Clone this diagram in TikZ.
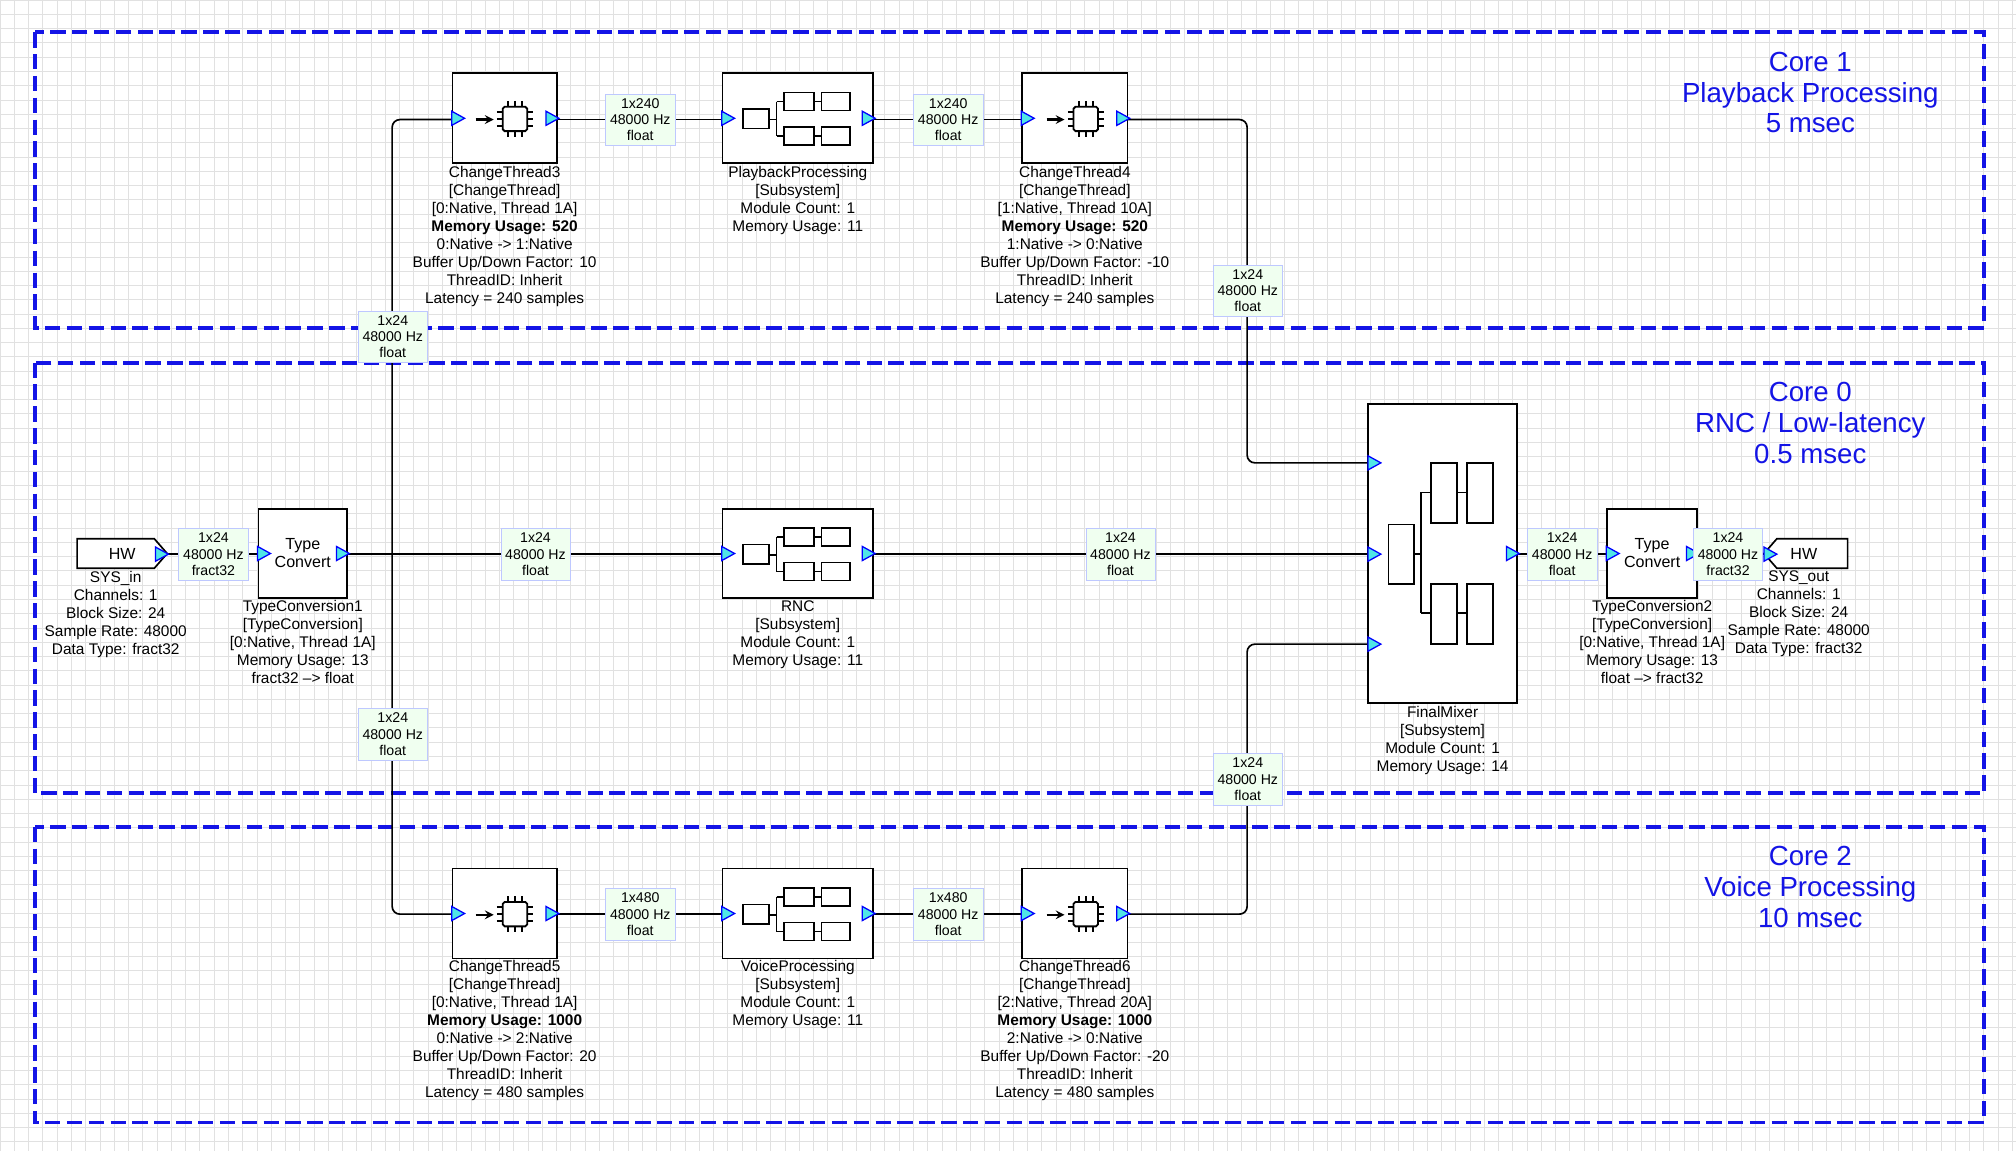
\documentclass[tikz,border=0pt]{standalone}
\usepackage{fontspec}
\setmainfont{Liberation Sans}
\begin{document}
\begin{tikzpicture}[x=1pt,y=-1pt,
  gridc/.style={draw={rgb,255:red,225;green,225;blue,225},line width=0.6pt},
  core/.style={draw={rgb,255:red,20;green,20;blue,230},line width=3pt,dash pattern=on 12pt off 5pt},
  title/.style={text={rgb,255:red,20;green,20;blue,230},font=\fontsize{21.5}{24}\selectfont,align=center},
  blk/.style={draw,line width=1.3pt,fill=white,inner sep=0pt},
  wire/.style={line width=1.3pt,rounded corners=6pt},
  lab/.style={draw={rgb,255:red,190;green,200;blue,255},fill={rgb,255:red,240;green,255;blue,240},font=\fontsize{11}{12.5}\selectfont,align=center,inner sep=1.5pt,minimum width=54pt,minimum height=40pt},
  txt/.style={font=\fontsize{12}{14}\selectfont,align=center,inner sep=0pt,anchor=north},
  port/.style={fill={rgb,255:red,80;green,230;blue,230},draw={rgb,255:red,0;green,0;blue,255},line width=1pt},
  ic/.style={line width=1.4pt}]
\useasboundingbox (0,0) rectangle (1568,895.2);
\fill[white] (0,0) rectangle (1568,895.2);
\foreach \i in {0,...,141} \draw[gridc] (\i*11.1,0) -- (\i*11.1,895.2);
\foreach \i in {0,...,80} \draw[gridc] (0,\i*11.1) -- (1568,\i*11.1);
\newcommand\iport[1]{\draw[port] (#1) ++(0,-5.5) -- ++(10,5.5) -- ++(-10,5.5) -- cycle;}
\newcommand\oport[1]{\draw[port] (#1) ++(-9,-5.5) -- ++(10,5.5) -- ++(-10,5.5) -- cycle;}
\newcommand\chipicon[1]{\begin{scope}[shift={(#1)}]
  \draw[line width=2pt,-stealth] (-22,1) -- (-8,1);
  \draw[ic,rounded corners=1.5pt] (-1,-9) rectangle (18,10);
  \foreach \t in {-5,0.5,6} {\draw[ic] (-5.5,\t) -- (-1,\t); \draw[ic] (18,\t) -- (22.5,\t);}
  \foreach \t in {3,8.5,14} {\draw[ic] (\t,-13.5) -- (\t,-9); \draw[ic] (\t,10) -- (\t,14.5);}
  \end{scope}}
\newcommand\subicon[1]{\begin{scope}[shift={(#1)}]
  \draw[ic] (-42,-7) rectangle (-22,8);
  \draw[ic] (-22,1) -- (-16,1) (-16,-13) -- (-16,14) (-16,-13) -- (-10,-13) (-16,14) -- (-10,14);
  \draw[ic] (-10,-20) rectangle (13,-6) (19,-20) rectangle (41,-6) (13,-13) -- (19,-13);
  \draw[ic] (-10,7) rectangle (13,21) (19,7) rectangle (41,21) (13,14) -- (19,14);
  \end{scope}}
% core regions
\draw[core] (27,25) rectangle (1543,255);
\draw[core] (27,282) rectangle (1543,617);
\draw[core] (27,643) rectangle (1543,873);
\node[title] (t1) at (1408,72) {Core 1\\Playback Processing\\5 msec};
\node[title] (t0) at (1408,329) {Core 0\\RNC / Low-latency\\0.5 msec};
\node[title] (t2) at (1408,690) {Core 2\\Voice Processing\\10 msec};
% coordinates
\coordinate (j) at (305,431);
\coordinate (hwinout) at (130,431);
\coordinate (hwoutin) at (1372,431);
\coordinate (fmi1) at (1064,360);
\coordinate (fmi2) at (1064,431);
\coordinate (fmi3) at (1064,501);
\coordinate (k1) at (970,93);
\coordinate (k3) at (970,711);
% wires
\draw[wire] (hwinout) -- (201,431);
\draw[wire] (270,431) -- (562,431);
\draw[wire] (j) |- (352,93);
\draw[wire] (j) |- (352,711);
\draw[wire] (433,93) -- (562,93);
\draw[wire] (679,93) -- (795,93);
\draw[wire] (877,93) -- (k1) |- (fmi1);
\draw[wire] (433,711) -- (562,711);
\draw[wire] (679,711) -- (795,711);
\draw[wire] (877,711) -- (k3) |- (fmi3);
\draw[wire] (679,431) -- (fmi2);
\draw[wire] (1180,431) -- (hwoutin);
% blocks
\node[blk,minimum width=81,minimum height=70] (ct3) at (392.5,92) {};
\node[blk,minimum width=117,minimum height=70] (pp) at (620.5,92) {};
\node[blk,minimum width=82,minimum height=70] (ct4) at (836,92) {};
\node[blk,minimum width=81,minimum height=70] (ct5) at (392.5,710.5) {};
\node[blk,minimum width=117,minimum height=70] (vp) at (620.5,710.5) {};
\node[blk,minimum width=82,minimum height=70] (ct6) at (836,710.5) {};
\node[blk,minimum width=69,minimum height=69,font=\fontsize{12.5}{14}\selectfont,align=center] (tc1) at (235.5,430.5) {Type\\Convert};
\node[blk,minimum width=117,minimum height=69] (rnc) at (620.5,430.5) {};
\node[blk,minimum width=116,minimum height=233] (fm) at (1122,430.5) {};
\node[blk,minimum width=70,minimum height=69,font=\fontsize{12.5}{14}\selectfont,align=center] (tc2) at (1285,430.5) {Type\\Convert};
\draw[line width=1.3pt,fill=white] (60,419) -- (120,419) -- (130,430.5) -- (120,442) -- (60,442) -- cycle;
\node[font=\fontsize{12.5}{14}\selectfont] (hwin) at (95,431) {HW};
\draw[line width=1.3pt,fill=white] (1437,419) -- (1382,419) -- (1372,430.5) -- (1382,442) -- (1437,442) -- cycle;
\node[font=\fontsize{12.5}{14}\selectfont] (hwout) at (1403,431) {HW};
% icons
\chipicon{392,92}\chipicon{836,92}\chipicon{392,710.5}\chipicon{836,710.5}
\subicon{620,92}\subicon{620,710.5}\subicon{620,430.5}
\begin{scope}[ic]
\draw (1080,408) rectangle (1100,454);
\draw (1100,431) -- (1105,431) (1105,383) -- (1105,477) (1105,383) -- (1113,383) (1105,477) -- (1113,477);
\draw (1113,360) rectangle (1133,407) (1141,360) rectangle (1161,407) (1133,383) -- (1141,383);
\draw (1113,454) rectangle (1133,501) (1141,454) rectangle (1161,501) (1133,477) -- (1141,477);
\end{scope}
% ports
\iport{ct3.west}\oport{ct3.east}\iport{pp.west}\oport{pp.east}\iport{ct4.west}\oport{ct4.east}
\iport{ct5.west}\oport{ct5.east}\iport{vp.west}\oport{vp.east}\iport{ct6.west}\oport{ct6.east}
\iport{tc1.west}\oport{tc1.east}\iport{rnc.west}\oport{rnc.east}
\iport{fmi1}\iport{fmi2}\iport{fmi3}\oport{fm.east}
\iport{tc2.west}\oport{tc2.east}\oport{hwinout}\iport{hwoutin}
% wire labels
\node[lab] (w1) at (498,93) {1x240\\48000 Hz\\float};
\node[lab] (w2) at (737.5,93) {1x240\\48000 Hz\\float};
\node[lab] (w3) at (970.5,226) {1x24\\48000 Hz\\float};
\node[lab] (w4) at (305.5,262) {1x24\\48000 Hz\\float};
\node[lab] (w5) at (166,431) {1x24\\48000 Hz\\fract32};
\node[lab] (w6) at (416.5,431) {1x24\\48000 Hz\\float};
\node[lab] (w7) at (871.5,431) {1x24\\48000 Hz\\float};
\node[lab] (w8) at (1215,431) {1x24\\48000 Hz\\float};
\node[lab] (w9) at (1344,431) {1x24\\48000 Hz\\fract32};
\node[lab] (w10) at (305.5,571) {1x24\\48000 Hz\\float};
\node[lab] (w11) at (970.5,606) {1x24\\48000 Hz\\float};
\node[lab] (w12) at (498,711) {1x480\\48000 Hz\\float};
\node[lab] (w13) at (737.5,711) {1x480\\48000 Hz\\float};
% block texts
\node[txt] (d3) at (392.5,129) {ChangeThread3\\{}[ChangeThread]\\{}[0:Native, Thread 1A]\\\textbf{Memory Usage: 520}\\0:Native -> 1:Native\\Buffer Up/Down Factor: 10\\ThreadID: Inherit\\Latency = 240 samples};
\node[txt] (dpp) at (620.5,129) {PlaybackProcessing\\{}[Subsystem]\\Module Count: 1\\Memory Usage: 11};
\node[txt] (d4) at (836,129) {ChangeThread4\\{}[ChangeThread]\\{}[1:Native, Thread 10A]\\\textbf{Memory Usage: 520}\\1:Native -> 0:Native\\Buffer Up/Down Factor: -10\\ThreadID: Inherit\\Latency = 240 samples};
\node[txt] (dhi) at (90,444) {SYS\_in\\Channels: 1\\Block Size: 24\\Sample Rate: 48000\\Data Type: fract32};
\node[txt] (dtc1) at (235.5,467) {TypeConversion1\\{}[TypeConversion]\\{}[0:Native, Thread 1A]\\Memory Usage: 13\\fract32 --> float};
\node[txt] (drnc) at (620.5,467) {RNC\\{}[Subsystem]\\Module Count: 1\\Memory Usage: 11};
\node[txt] (dfm) at (1122,549) {FinalMixer\\{}[Subsystem]\\Module Count: 1\\Memory Usage: 14};
\node[txt] (dtc2) at (1285,467) {TypeConversion2\\{}[TypeConversion]\\{}[0:Native, Thread 1A]\\Memory Usage: 13\\float --> fract32};
\node[txt] (dho) at (1399,444) {SYS\_out\\Channels: 1\\Block Size: 24\\Sample Rate: 48000\\Data Type: fract32};
\node[txt] (d5) at (392.5,747) {ChangeThread5\\{}[ChangeThread]\\{}[0:Native, Thread 1A]\\\textbf{Memory Usage: 1000}\\0:Native -> 2:Native\\Buffer Up/Down Factor: 20\\ThreadID: Inherit\\Latency = 480 samples};
\node[txt] (dvp) at (620.5,747) {VoiceProcessing\\{}[Subsystem]\\Module Count: 1\\Memory Usage: 11};
\node[txt] (d6) at (836,747) {ChangeThread6\\{}[ChangeThread]\\{}[2:Native, Thread 20A]\\\textbf{Memory Usage: 1000}\\2:Native -> 0:Native\\Buffer Up/Down Factor: -20\\ThreadID: Inherit\\Latency = 480 samples};
\end{tikzpicture}
\end{document}
